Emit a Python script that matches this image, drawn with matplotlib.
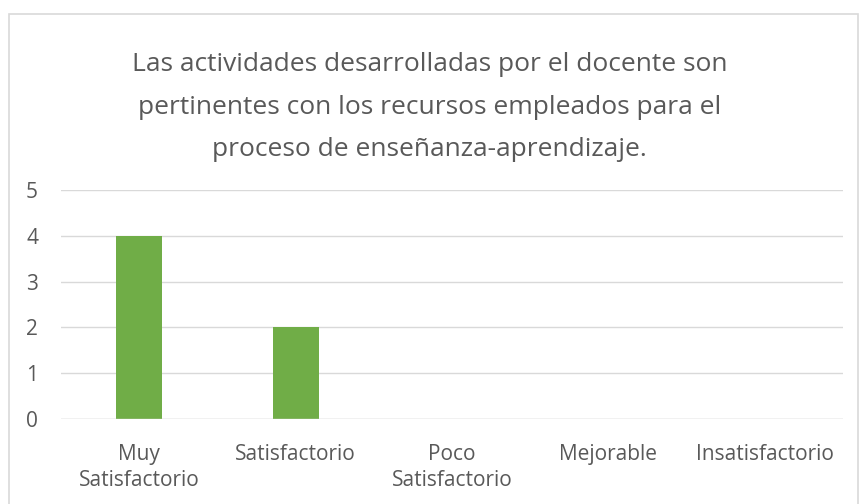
import matplotlib.pyplot as plt
from matplotlib.patches import Rectangle

# datos de la encuesta
categorias = ['Muy\nSatisfactorio', 'Satisfactorio', 'Poco\nSatisfactorio', 'Mejorable', 'Insatisfactorio']
valores = [4, 2, 0, 0, 0]
titulo = ('Las actividades desarrolladas por el docente son\n'
          'pertinentes con los recursos empleados para el\n'
          'proceso de enseñanza-aprendizaje.')

TEXTO = '#595959'
VERDE = '#70AD47'
GRIS = '#D9D9D9'

plt.rcParams['font.family'] = ['Open Sans', 'DejaVu Sans']

W, H = 859, 504
fig = plt.figure(figsize=(W / 100, H / 100), dpi=100)

# marco del gráfico
fig.patches.append(Rectangle((9 / W, -0.05), 849 / W, 1.05 - 14 / H,
                             transform=fig.transFigure, fill=False,
                             edgecolor=GRIS, linewidth=1.2))

ax = fig.add_axes([61 / W, 1 - 419 / H, 782 / W, (419 - 190) / H])
x = range(len(categorias))
ax.bar(x, valores, width=0.295, color=VERDE, zorder=3)

ax.set_xlim(-0.5, len(categorias) - 0.5)
ax.set_ylim(0, 5)
ax.set_yticks(range(6))
ax.set_xticks(list(x))
ax.set_xticklabels(categorias, fontsize=15, color=TEXTO, linespacing=1.33)
ax.tick_params(axis='y', labelsize=15, labelcolor=TEXTO, length=0, pad=16.5)
ax.tick_params(axis='x', length=0, pad=18)
ax.grid(axis='y', color=GRIS, linewidth=1, zorder=0)
for s in ax.spines.values():
    s.set_visible(False)
ax.axhline(0, color=GRIS, linewidth=1, zorder=4)

fig.text(0.5, 1 - 107 / H, titulo, ha='center', va='center', fontsize=19,
         color=TEXTO, linespacing=1.9)

fig.savefig('out.png', dpi=100)
